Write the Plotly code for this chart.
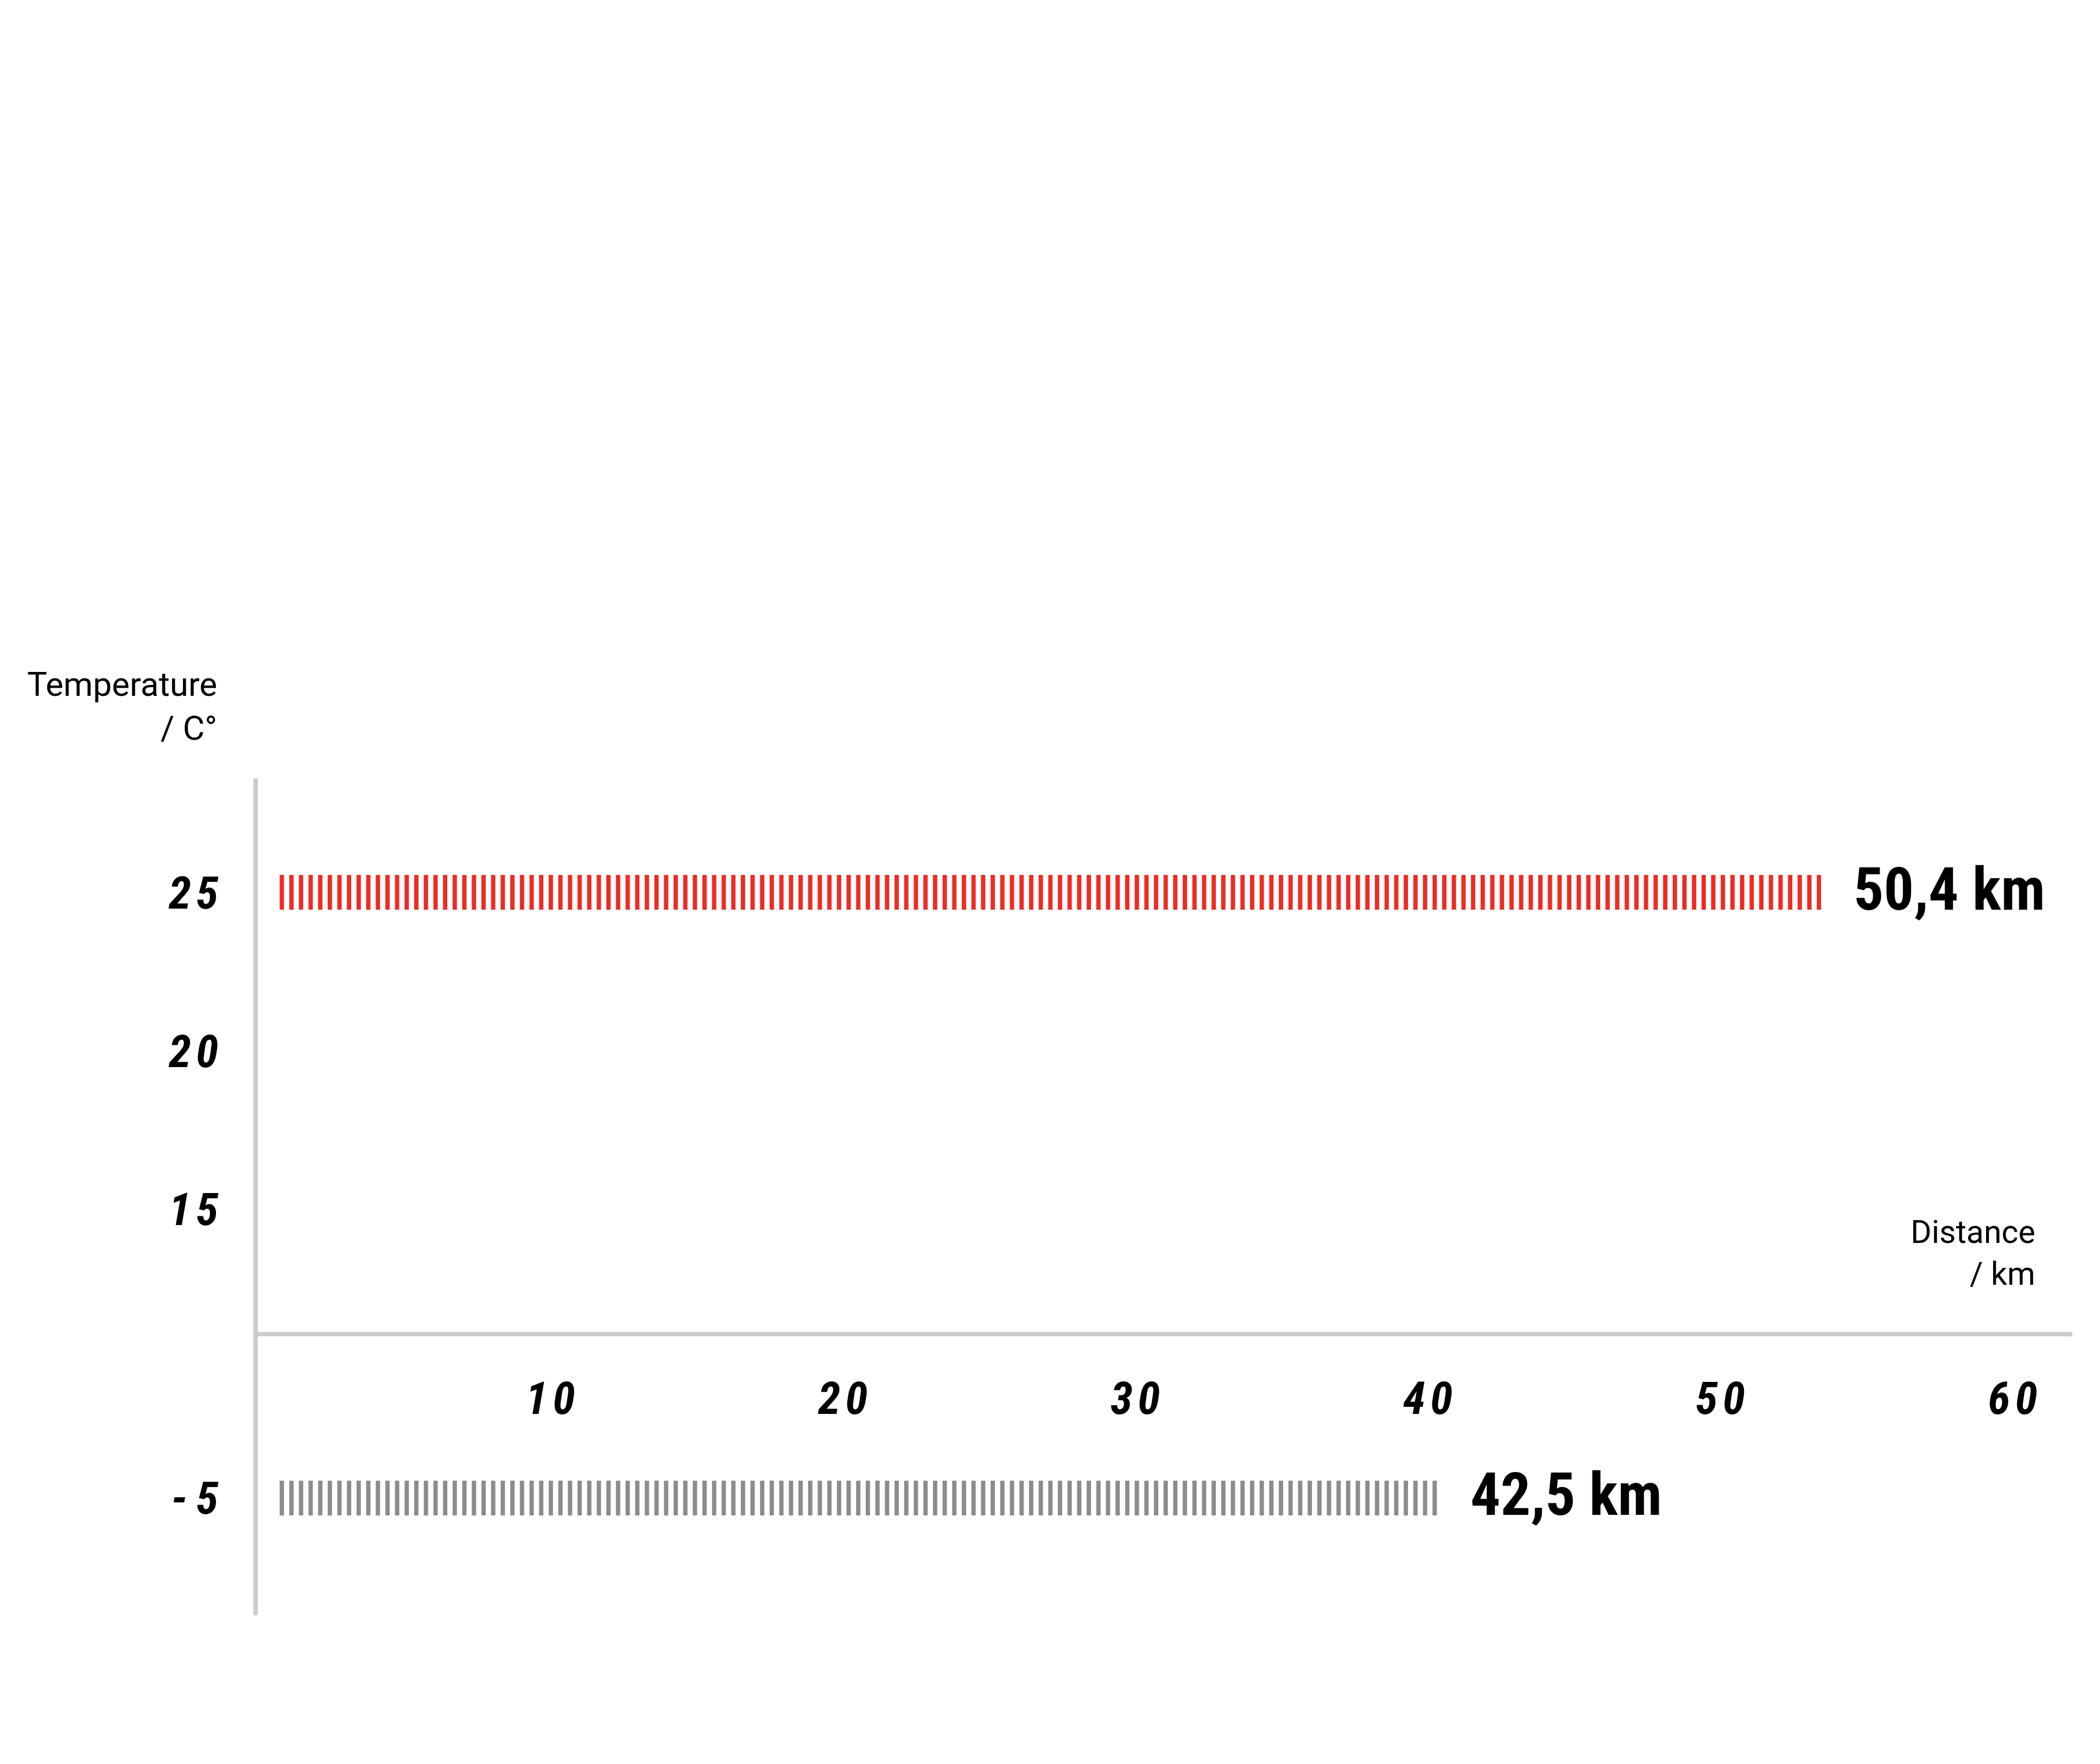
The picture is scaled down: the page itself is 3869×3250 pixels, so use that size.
import plotly.graph_objects as go

# --- data ------------------------------------------------------------------
temperature_c = [25, -5]              # bar rows (°C)
distance_km = [50.4, 42.5]            # printed distance of each bar
bar_start_km = [0.65, 0.65]           # where the hatched bars start on the x scale
bar_end_km = [53.45, 40.35]           # where the hatched bars end on the x scale
bar_colors = ["#ee2b24", "#8c8c8c"]

y_ticks_upper = [15, 20, 25]
y_ticks_lower = [-5]
x_ticks = [10, 20, 30, 40, 50, 60]

# page body has an 8px margin, so the figure is drawn a little smaller
OFF = 8
W, H = 3869 - 2 * OFF, 3250 - 2 * OFF
AXIS = "#cccccc"
NARROW = "Roboto Condensed, Open Sans Condensed, DejaVu Sans Condensed, sans-serif"
PLAIN = "Roboto, Noto Sans, sans-serif"


def px_x(p):
    # screen pixel -> paper fraction
    return (p - OFF) / W


def px_y(p):
    return 1 - (p - OFF) / H


def spaced(v):
    # the tick digits are tracked out in the original
    return "\u200a".join(str(v))


def km_label(v):
    return f"{v:.1f}".replace(".", ",") + " km"


tick_font = dict(family=NARROW, size=84, color="black", weight="bold", style="italic")

fig = go.Figure()

axes = ["y", "y2"]
xaxes = ["x", "x2"]
for i, t in enumerate(temperature_c):
    fig.add_trace(go.Bar(
        orientation="h",
        y=[t],
        x=[bar_end_km[i] - bar_start_km[i]],
        base=[bar_start_km[i]],
        width=1.1,
        xaxis=xaxes[i],
        yaxis=axes[i],
        marker=dict(
            color="rgba(0,0,0,0)",
            line=dict(width=0),
            pattern=dict(shape="|", fgcolor=bar_colors[i], bgcolor="white",
                         size=17.7, solidity=0.45, fillmode="replace"),
        ),
        hoverinfo="skip",
        showlegend=False,
    ))
    fig.add_annotation(
        x=bar_end_km[i], y=t, xref=xaxes[i], yref=axes[i],
        text=km_label(distance_km[i]), showarrow=False,
        xanchor="left", yanchor="middle", xshift=58, yshift=6,
        font=dict(family=NARROW, size=110, color="black", weight="bold"),
    )

# axis titles, drawn as free text like in the original
fig.add_annotation(
    x=px_x(402), y=px_y(1222), xref="paper", yref="paper",
    text="Temperature<br>/ C°", showarrow=False, align="right",
    xanchor="right", yanchor="top",
    font=dict(family=PLAIN, size=62, color="black"),
)
fig.add_annotation(
    x=px_x(3752), y=px_y(2233), xref="paper", yref="paper",
    text="Distance<br>/ km", showarrow=False, align="right",
    xanchor="right", yanchor="top",
    font=dict(family=PLAIN, size=59, color="black"),
)

x_dom = [px_x(475), px_x(3818)]
fig.update_layout(
    width=W, height=H,
    margin=dict(l=0, r=0, t=0, b=0),
    paper_bgcolor="white", plot_bgcolor="white",
    bargap=0,
    xaxis=dict(
        domain=x_dom, range=[0, 62.04], anchor="y",
        tickvals=x_ticks, ticktext=[spaced(v) for v in x_ticks],
        tickfont=tick_font, ticks="", ticklabelstandoff=42,
        showline=True, linecolor=AXIS, linewidth=8,
        showgrid=False, zeroline=False, fixedrange=True,
    ),
    xaxis2=dict(
        domain=x_dom, range=[0, 62.04], anchor="y2", matches="x",
        visible=False, fixedrange=True,
    ),
    yaxis=dict(
        domain=[px_y(2454), px_y(1434)], range=[11.13, 28.6], anchor="x",
        tickvals=y_ticks_upper, ticktext=[spaced(v) for v in y_ticks_upper],
        tickfont=tick_font, ticks="", ticklabelstandoff=48,
        showline=True, linecolor=AXIS, linewidth=8,
        showgrid=False, zeroline=False, fixedrange=True,
    ),
    yaxis2=dict(
        domain=[px_y(2976), px_y(2454)], range=[-8.7, 0.24], anchor="x2",
        tickvals=y_ticks_lower, ticktext=["-\u2009" + str(abs(v)) for v in y_ticks_lower],
        tickfont=tick_font, ticks="", ticklabelstandoff=48,
        showline=True, linecolor=AXIS, linewidth=8,
        showgrid=False, zeroline=False, fixedrange=True,
    ),
)

fig.write_html("out.html", config={"displayModeBar": False})
